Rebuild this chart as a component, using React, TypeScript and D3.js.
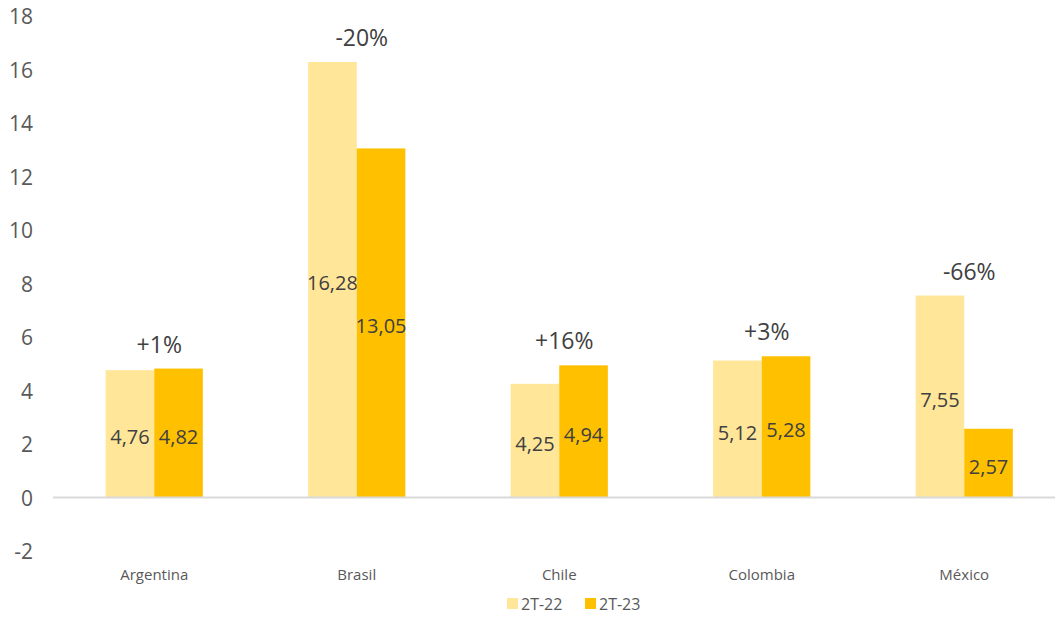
import React from "react";
import * as d3 from "d3";

const categories = ["Argentina", "Brasil", "Chile", "Colombia", "México"];
const series22 = [4.76, 16.28, 4.25, 5.12, 7.55];
const series23 = [4.82, 13.05, 4.94, 5.28, 2.57];
const changeLabels = ["+1%", "-20%", "+16%", "+3%", "-66%"];
const seriesNames = ["2T-22", "2T-23"];
const yTicks = [-2, 0, 2, 4, 6, 8, 10, 12, 14, 16, 18];

const W = 1055;
const H = 618;
const colors = ["#FFE699", "#FFC000"];
const font = "'Open Sans', 'Noto Sans', sans-serif";

export default function App() {
  const y = d3.scaleLinear().domain([-2, 18]).range([551, 16]);
  const x = d3
    .scaleBand<string>()
    .domain(categories)
    .range([53, 1065.5])
    .paddingInner(0.52)
    .paddingOuter(0.26);
  const bw = x.bandwidth() / 2;
  const fmt = (v: number) => v.toFixed(2).replace(".", ",");
  const series = [series22, series23];

  return (
    <svg
      width={W}
      height={H}
      style={{ position: "absolute", left: 0, top: 0, background: "#fff" }}
      fontFamily={font}
    >
      {yTicks.map((t) => (
        <text
          key={t}
          x={33}
          y={y(t)}
          textAnchor="end"
          dominantBaseline="central"
          fontSize={21}
          fill="#595959"
        >
          {t}
        </text>
      ))}
      {series.map((vals, si) =>
        vals.map((v, i) => {
          const x0 = (x(categories[i]) as number) + si * bw;
          return (
            <g key={`${si}-${i}`}>
              <rect
                x={x0}
                y={y(Math.max(0, v))}
                width={bw}
                height={Math.abs(y(v) - y(0))}
                fill={colors[si]}
              />
              <text
                x={x0 + bw / 2}
                y={(y(v) + y(0)) / 2 + 3}
                textAnchor="middle"
                dominantBaseline="central"
                fontSize={20}
                fill="#404040"
              >
                {fmt(v)}
              </text>
            </g>
          );
        })
      )}
      <line x1={53} x2={W} y1={y(0)} y2={y(0)} stroke="#D9D9D9" strokeWidth={2} />
      {categories.map((c, i) => {
        const cx = (x(c) as number) + x.bandwidth() / 2;
        const top = y(Math.max(series22[i], series23[i]));
        return (
          <g key={c}>
            <text
              x={cx + 5}
              y={top - 25}
              textAnchor="middle"
              dominantBaseline="central"
              fontSize={23}
              fill="#404040"
            >
              {changeLabels[i]}
            </text>
            <text
              x={cx}
              y={574}
              textAnchor="middle"
              dominantBaseline="central"
              fontSize={15}
              fill="#595959"
            >
              {c}
            </text>
          </g>
        );
      })}
      {seriesNames.map((n, i) => {
        const lx = 507 + i * 78;
        return (
          <g key={n}>
            <rect x={lx} y={598} width={11} height={11} fill={colors[i]} />
            <text
              x={lx + 14}
              y={604}
              dominantBaseline="central"
              fontSize={16}
              fill="#595959"
            >
              {n}
            </text>
          </g>
        );
      })}
    </svg>
  );
}
